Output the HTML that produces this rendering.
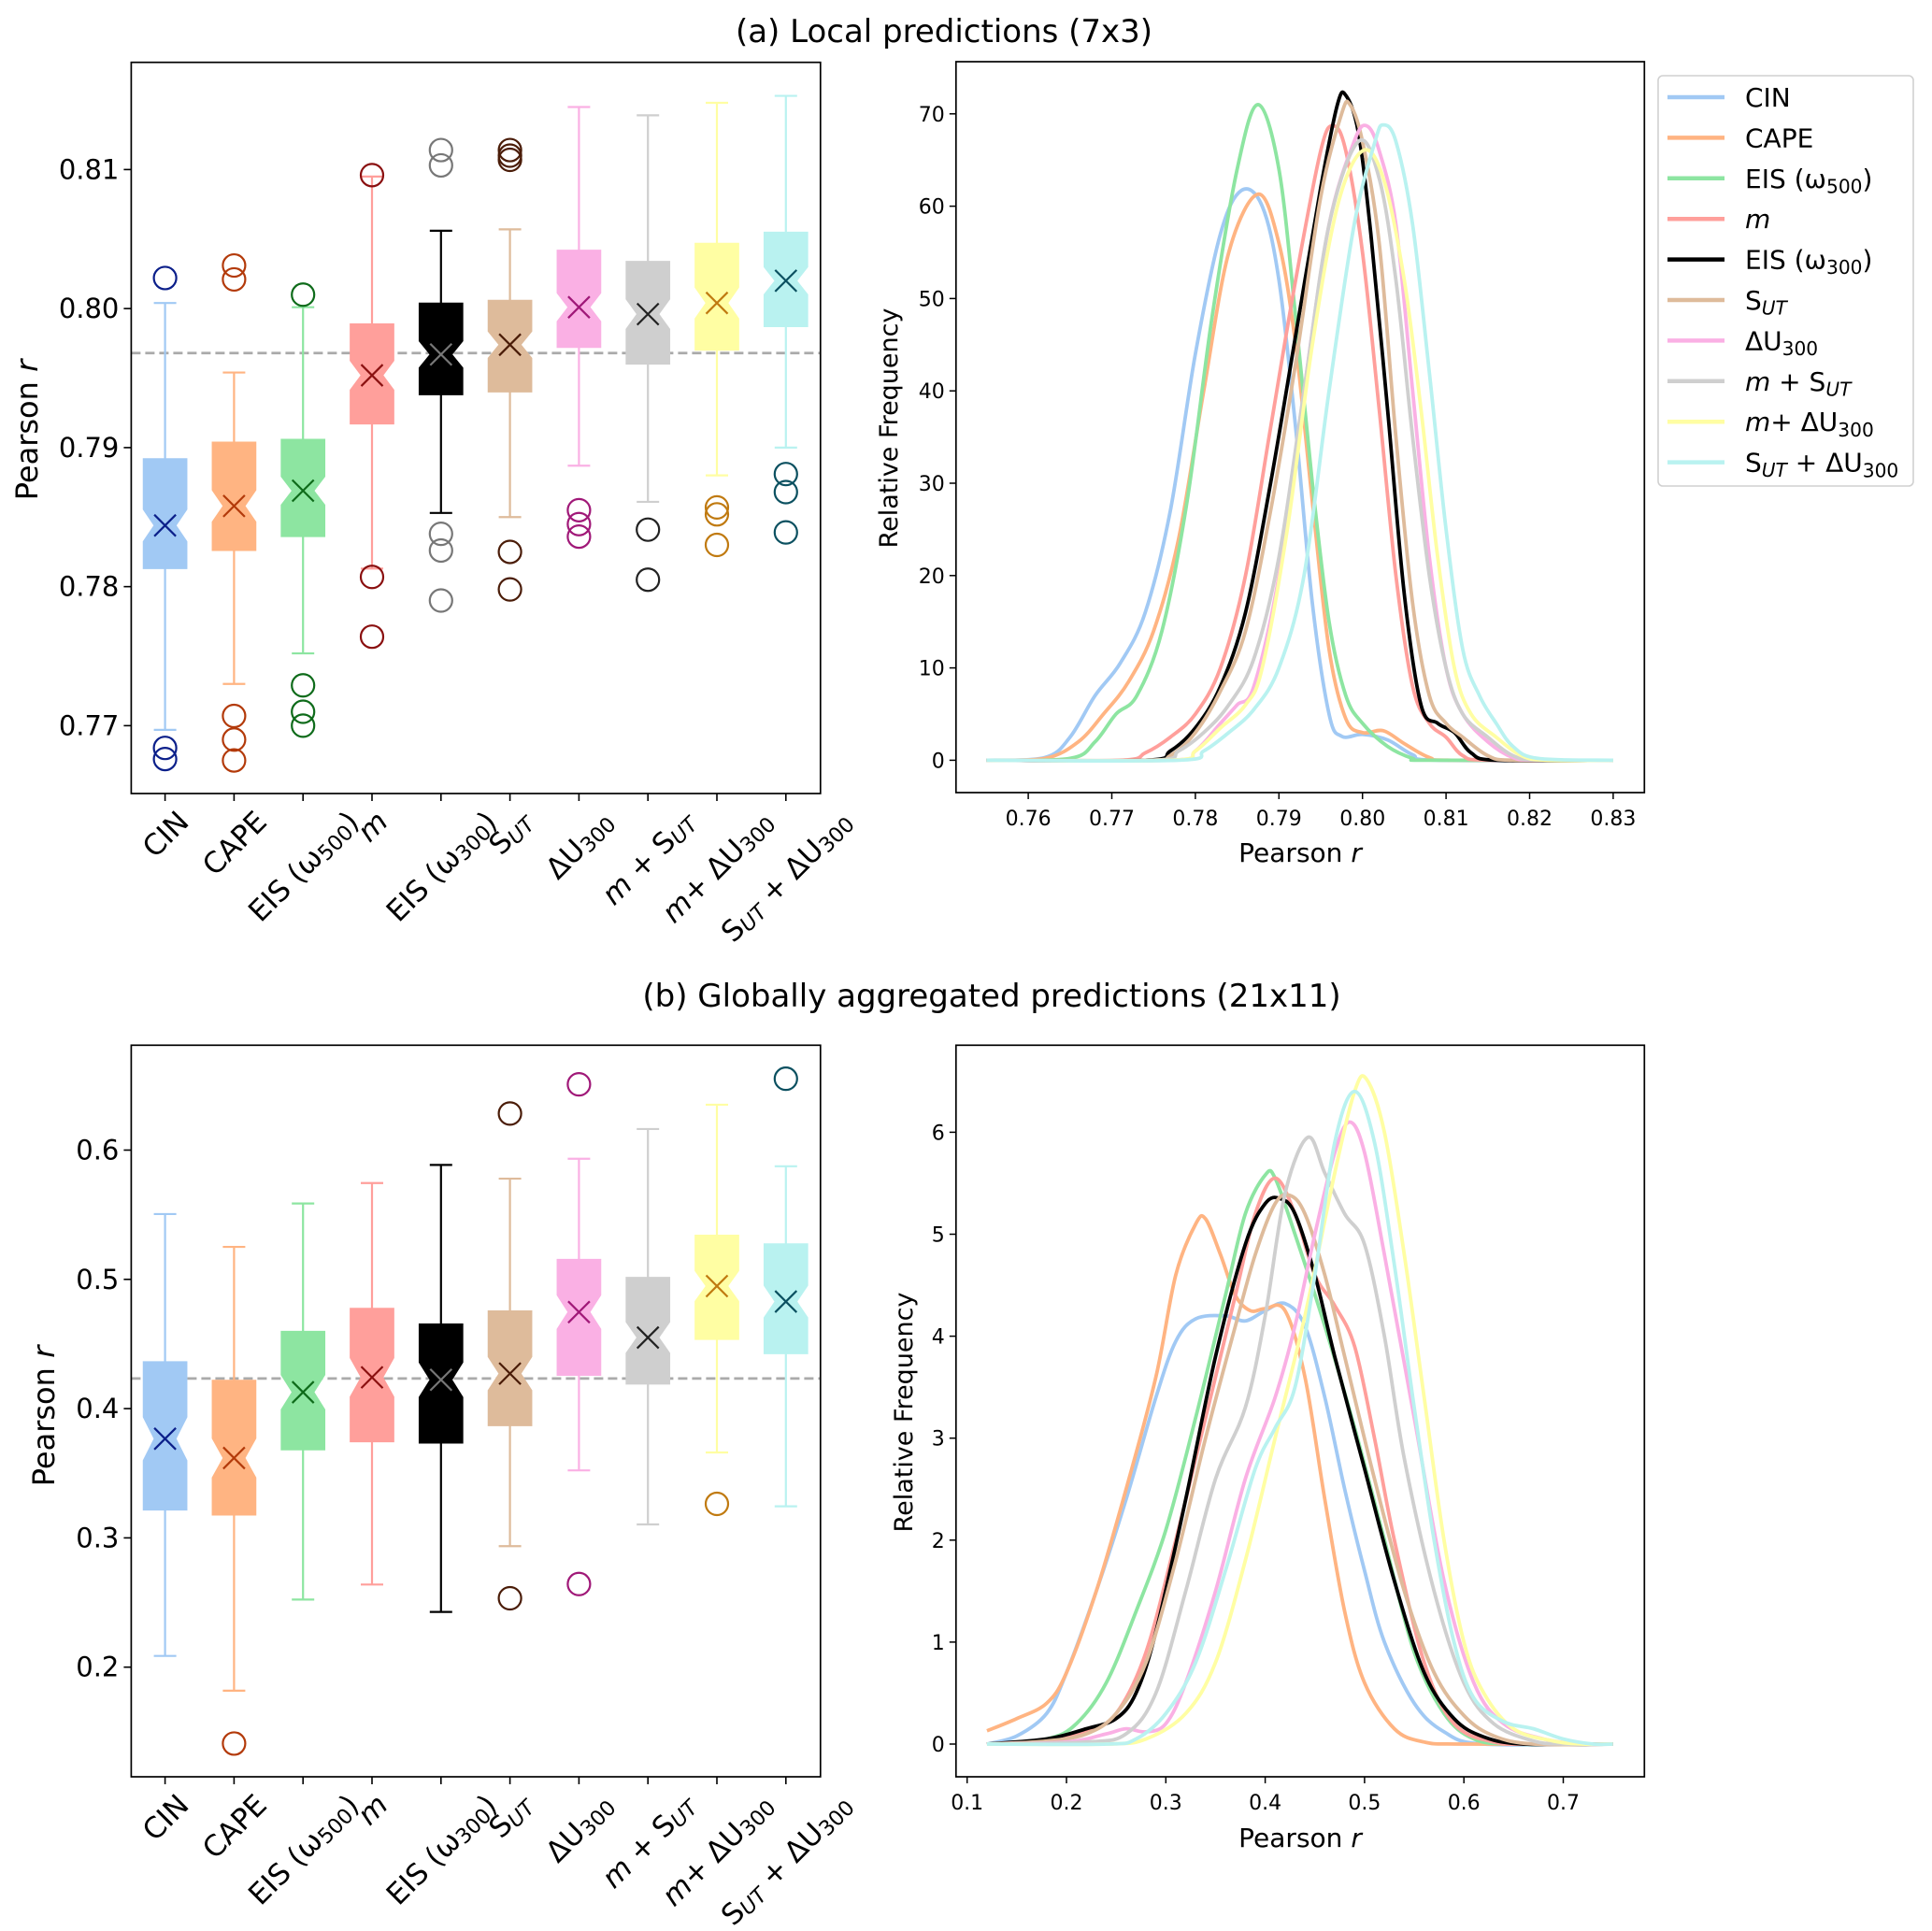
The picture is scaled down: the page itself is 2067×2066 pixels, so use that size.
<!DOCTYPE html>
<html><head><meta charset="utf-8"><style>
html,body{margin:0;padding:0;background:#fff}
svg{display:block;font-family:"DejaVu Sans","Liberation Sans",sans-serif}
</style></head><body>
<svg id="fig" xmlns="http://www.w3.org/2000/svg" width="2067" height="2066" viewBox="0 0 2067 2066">
<rect width="2067" height="2066" fill="#fff"/>
<text x="1010" y="45" font-size="34" text-anchor="middle">(a) Local predictions (7x3)</text>
<text x="1061" y="1077" font-size="34" text-anchor="middle">(b) Globally aggregated predictions (21x11)</text>
</svg>
<script>
// ---------- data ----------
const categories = ["CIN","CAPE","EIS500","m","EIS300","SUT","dU300","m+SUT","m+dU300","SUT+dU300"];
const lightColors = ["#a1c9f4","#ffb482","#8de5a1","#ff9f9b","#000000","#debb9b","#fab0e4","#cfcfcf","#fffea3","#b9f2f0"];
const darkColors = ["#0b1f8a","#b33a0a","#0e6b1a","#8a1010","#777777","#4a1c08","#a01878","#222222","#c07a10","#0b5060"];
// top box plot
const topQ1 = [.7813,.7826,.7836,.7917,.7938,.7940,.7972,.7960,.7970,.7987];
const topQ3 = [.7892,.7904,.7906,.7989,.8004,.8006,.8042,.8034,.8047,.8055];
const topMed = [.7844,.7858,.7869,.7952,.7967,.7974,.8001,.7996,.8004,.8020];
const topMean = [.7844,.7858,.7869,.7952,.7967,.7974,.8001,.7996,.8004,.8020];
const topLo = [.7697,.7730,.7752,.7813,.7853,.7850,.7887,.7861,.7880,.7900];
const topHi = [.8004,.7954,.8001,.8095,.8056,.8057,.8145,.8139,.8148,.8153];
const topOut = [[.8022,.7684,.7676],[.8031,.8021,.7707,.7690,.7675],[.8010,.7729,.7710,.7700],[.8096,.7807,.7764],[.8114,.8103,.7838,.7826,.7790],[.8114,.8110,.8107,.7825,.7798],[.7855,.7845,.7836],[.7841,.7805],[.7857,.7852,.7830],[.7881,.7868,.7839]];
const topRef = .7968;
// bottom box plot
const botQ1 = [.3215,.3176,.3681,.3743,.3733,.3868,.4257,.4190,.4535,.4425];
const botQ3 = [.4363,.4219,.4598,.4776,.4655,.4756,.5155,.5016,.5342,.5275];
const botMed = [.3767,.3618,.4127,.4242,.4223,.4271,.4747,.4550,.4948,.4828];
const botMean = [.3767,.3618,.4127,.4242,.4223,.4271,.4747,.4550,.4948,.4828];
const botLo = [.2087,.1818,.2523,.2639,.2427,.2936,.3522,.3104,.3661,.3244];
const botHi = [.5505,.5251,.5587,.5745,.5885,.5779,.5933,.6163,.6351,.5875];
const botOut = [[],[.1409],[],[],[],[.6283,.2533],[.6509,.2643],[],[.3263],[.6552]];
const botRef = .4233;
const nSamples = 115;
// KDE top
const kdeTop = [
[[.755,0],[.762,.3],[.765,2.5],[.768,7],[.771,10.5],[.774,16],[.777,27],[.780,44],[.783,57],[.7855,61.7],[.788,60],[.790,52],[.792,36],[.794,17],[.796,5],[.7975,2.6],[.800,2.8],[.803,2.2],[.806,.6],[.809,0],[.83,0]],
[[.755,0],[.762,.2],[.766,2],[.769,5],[.772,8.5],[.775,14],[.778,24],[.781,40],[.784,55],[.7875,61.3],[.790,56],[.792,45],[.794,28],[.796,12],[.798,4.5],[.800,3],[.8025,3.2],[.805,1.8],[.808,.3],[.811,0],[.83,0]],
[[.755,0],[.765,.2],[.768,2],[.7705,5],[.773,7],[.776,14],[.779,28],[.782,48],[.785,64],[.7875,71],[.790,64],[.792,48],[.794,30],[.796,15],[.798,7],[.800,4],[.803,1.5],[.806,.2],[.808,0],[.83,0]],
[[.755,0],[.771,0],[.774,.8],[.777,2.5],[.780,5],[.783,10],[.786,20],[.789,36],[.792,52],[.795,66],[.7965,68.7],[.798,66],[.800,55],[.802,38],[.804,20],[.806,8],[.808,4],[.810,2.5],[.812,.5],[.815,0],[.83,0]],
[[.755,0],[.774,0],[.777,1],[.780,3.5],[.783,8],[.786,16],[.789,30],[.792,46],[.795,62],[.797,71],[.798,72],[.7995,68],[.801,57],[.803,38],[.805,18],[.807,6],[.809,4],[.811,3],[.813,.8],[.816,0],[.83,0]],
[[.755,0],[.774,0],[.777,.5],[.780,3],[.783,7.5],[.786,14],[.789,27],[.792,43],[.795,61],[.7975,70],[.7985,71],[.800,67],[.802,56],[.804,35],[.806,17],[.808,7],[.810,4],[.812,2.5],[.815,.5],[.818,0],[.83,0]],
[[.755,0],[.777,0],[.780,1],[.783,4],[.785,6],[.787,8],[.790,20],[.793,40],[.796,58],[.799,67],[.8005,68.7],[.802,66],[.804,58],[.806,40],[.808,22],[.810,10],[.812,5],[.815,2],[.818,.3],[.821,0],[.83,0]],
[[.755,0],[.775,0],[.778,1],[.781,3],[.784,6],[.787,11],[.790,22],[.793,40],[.796,58],[.7995,67],[.802,63],[.804,52],[.806,35],[.808,20],[.810,10],[.812,5],[.815,2.5],[.818,.5],[.821,0],[.83,0]],
[[.755,0],[.777,0],[.780,1],[.783,3.5],[.786,6],[.788,10],[.791,25],[.794,45],[.797,60],[.800,66],[.8025,63],[.805,52],[.807,38],[.809,22],[.811,10],[.813,5],[.816,2.5],[.819,.5],[.822,0],[.83,0]],
[[.755,0],[.778,0],[.781,1],[.784,3],[.787,5.5],[.790,10],[.793,20],[.796,40],[.799,58],[.8015,67],[.8025,68.8],[.804,67],[.806,58],[.808,42],[.810,25],[.812,12],[.814,7],[.816,4],[.818,1.5],[.821,.2],[.83,0]]
];
// KDE bottom
const kdeBot = [
[[.12,0],[.15,.08],[.18,.3],[.2,.7],[.23,1.5],[.26,2.4],[.29,3.4],[.31,3.95],[.33,4.17],[.36,4.2],[.38,4.15],[.40,4.25],[.42,4.32],[.44,4.1],[.46,3.4],[.48,2.5],[.50,1.7],[.52,1.0],[.55,.4],[.58,.12],[.62,0],[.75,0]],
[[.12,.13],[.15,.25],[.18,.4],[.2,.7],[.23,1.5],[.26,2.5],[.29,3.6],[.31,4.6],[.33,5.1],[.34,5.15],[.355,4.8],[.37,4.4],[.385,4.25],[.40,4.27],[.42,4.25],[.44,3.6],[.46,2.4],[.48,1.3],[.50,.6],[.53,.15],[.56,.02],[.6,0],[.75,0]],
[[.12,0],[.18,.05],[.21,.2],[.24,.6],[.27,1.3],[.30,2.1],[.33,3.2],[.36,4.4],[.38,5.2],[.40,5.58],[.41,5.55],[.43,5.0],[.46,4.1],[.49,3.1],[.52,2.0],[.55,.9],[.58,.3],[.61,.05],[.65,0],[.75,0]],
[[.12,0],[.18,.03],[.22,.12],[.25,.3],[.28,.9],[.31,2.0],[.34,3.2],[.37,4.4],[.39,5.2],[.41,5.55],[.43,5.2],[.45,4.6],[.47,4.3],[.49,3.9],[.51,3.0],[.53,2.0],[.56,.8],[.59,.2],[.63,.02],[.67,0],[.75,0]],
[[.12,0],[.18,.05],[.22,.15],[.25,.25],[.27,.5],[.29,1.1],[.32,2.4],[.35,3.8],[.38,4.9],[.40,5.3],[.415,5.35],[.43,5.2],[.45,4.6],[.47,3.8],[.50,2.7],[.53,1.6],[.56,.7],[.59,.25],[.62,.07],[.66,0],[.75,0]],
[[.12,0],[.18,.03],[.22,.1],[.25,.3],[.28,.8],[.31,1.8],[.34,3.0],[.37,4.1],[.39,4.8],[.41,5.3],[.425,5.38],[.44,5.2],[.46,4.6],[.48,3.8],[.51,2.6],[.54,1.5],[.57,.7],[.60,.28],[.63,.08],[.67,0],[.75,0]],
[[.12,0],[.2,.02],[.24,.1],[.26,.15],[.28,.12],[.30,.2],[.32,.6],[.35,1.5],[.38,2.6],[.41,3.4],[.43,4.1],[.45,5.0],[.47,5.8],[.485,6.1],[.50,5.8],[.52,4.8],[.55,3.2],[.58,1.6],[.61,.6],[.64,.2],[.68,.05],[.72,0],[.75,0]],
[[.12,0],[.22,.02],[.26,.1],[.29,.5],[.32,1.5],[.35,2.6],[.38,3.3],[.40,4.2],[.42,5.4],[.443,5.95],[.46,5.6],[.48,5.2],[.50,4.9],[.52,4.0],[.54,2.8],[.57,1.5],[.60,.6],[.63,.2],[.67,.03],[.7,0],[.75,0]],
[[.12,0],[.24,0],[.28,.05],[.32,.3],[.35,.8],[.38,1.8],[.41,3.0],[.44,4.2],[.47,5.6],[.49,6.4],[.502,6.52],[.52,6.0],[.54,4.8],[.56,3.4],[.58,2.0],[.60,1.0],[.62,.5],[.65,.15],[.69,.03],[.72,0],[.75,0]],
[[.12,0],[.24,0],[.27,.05],[.30,.3],[.33,.8],[.36,1.7],[.39,2.7],[.41,3.1],[.43,3.5],[.45,4.6],[.47,5.9],[.49,6.4],[.51,5.9],[.53,4.7],[.55,3.3],[.57,2.0],[.59,1.0],[.61,.45],[.64,.22],[.67,.15],[.70,.05],[.73,0],[.75,0]]
];
const topYTicks = [.77,.78,.79,.80,.81];
const botYTicks = [.2,.3,.4,.5,.6];
const trXTicks = [.76,.77,.78,.79,.80,.81,.82,.83];
const trYTicks = [0,10,20,30,40,50,60,70];
const brXTicks = [.1,.2,.3,.4,.5,.6,.7];
const brYTicks = [0,1,2,3,4,5,6];

// ---------- helpers ----------
const NS="http://www.w3.org/2000/svg";
const svg=document.getElementById('fig');
function mk(tag,attrs,parent){const e=document.createElementNS(NS,tag);for(const k in attrs)e.setAttribute(k,attrs[k]);(parent||svg).appendChild(e);return e;}
const labelSegs = {
 "CIN":[["CIN",""]],
 "CAPE":[["CAPE",""]],
 "EIS500":[["EIS (ω",""],["500","sub"],[")",""]],
 "m":[["m","i"]],
 "EIS300":[["EIS (ω",""],["300","sub"],[")",""]],
 "SUT":[["S",""],["UT","isub"]],
 "dU300":[["ΔU",""],["300","sub"]],
 "m+SUT":[["m","i"],[" + S",""],["UT","isub"]],
 "m+dU300":[["m","i"],["+ ΔU",""],["300","sub"]],
 "SUT+dU300":[["S",""],["UT","isub"],[" + ΔU",""],["300","sub"]]
};
function richText(t,key){
  let sub=false;
  labelSegs[key].forEach(([s,st])=>{
    const ts=mk('tspan',{},t);ts.textContent=s;
    if(st==='i'||st==='isub')ts.setAttribute('font-style','italic');
    if(st==='sub'||st==='isub'){ts.setAttribute('font-size','0.72em');if(!sub){ts.setAttribute('dy','0.28em');sub=true;}}
    else if(sub){ts.setAttribute('dy','-0.2em');sub=false;}
  });
}
function frame(g,x0,x1,y0,y1){mk('rect',{x:x0,y:y0,width:x1-x0,height:y1-y0,fill:'none',stroke:'#000','stroke-width':1.7},g);}

// ---------- box panels ----------
function boxPanel(name,y0,y1,ymap,ticks,fmt,Q1,Q3,Med,Mean,Lo,Hi,Out,ref,labelY){
  const g=mk('g',{});
  
  
  const x0=140.4,x1=877.8;
  const cx=i=>176.6+i*73.8;
  const rl=mk('line',{x1:x0,x2:x1,y1:ymap(ref),y2:ymap(ref),stroke:'#aaaaaa','stroke-width':2.8,'stroke-dasharray':'10,5'},g);
  
  
  categories.forEach((c,i)=>{
    const bg=mk('g',{},g);
    
    
    const x=cx(i),w=46.7,l=x-w/2,r=x+w/2,ins=w*0.25;
    const col=lightColors[i];
    const iqr=Q3[i]-Q1[i];const nh=1.57*iqr/Math.sqrt(nSamples);
    const nlo=Med[i]-nh,nhi=Med[i]+nh;
    mk('line',{x1:x,x2:x,y1:ymap(Q3[i]),y2:ymap(Hi[i]),stroke:col,'stroke-width':2.2},bg);
    mk('line',{x1:x,x2:x,y1:ymap(Q1[i]),y2:ymap(Lo[i]),stroke:col,'stroke-width':2.2},bg);
    mk('line',{x1:x-12,x2:x+12,y1:ymap(Hi[i]),y2:ymap(Hi[i]),stroke:col,'stroke-width':2.2},bg);
    mk('line',{x1:x-12,x2:x+12,y1:ymap(Lo[i]),y2:ymap(Lo[i]),stroke:col,'stroke-width':2.2},bg);
    const pts=[[l,Q1[i]],[r,Q1[i]],[r,nlo],[r-ins,Med[i]],[r,nhi],[r,Q3[i]],[l,Q3[i]],[l,nhi],[l+ins,Med[i]],[l,nlo]];
    mk('polygon',{points:pts.map(p=>p[0]+','+ymap(p[1])).join(' '),fill:col,stroke:col,'stroke-width':1},bg);
    const my=ymap(Mean[i]),s=11.5;
    mk('path',{d:`M${x-s},${my-s}L${x+s},${my+s}M${x-s},${my+s}L${x+s},${my-s}`,stroke:darkColors[i],'stroke-width':2.2,fill:'none'},bg);
    Out[i].forEach(v=>{mk('circle',{cx:x,cy:ymap(v),r:12,fill:'none',stroke:darkColors[i],'stroke-width':2.2},bg);});
    mk('line',{x1:x,x2:x,y1:y1,y2:y1+8,stroke:'#000','stroke-width':1.6},g);
    const t=mk('text',{'font-size':31,'text-anchor':'middle','dominant-baseline':'central'},g);
    
    
    richText(t,c);
    const len=t.getComputedTextLength();
    const cyT=y1+14+len*0.354+11;
    t.setAttribute('transform',`translate(${x+1},${cyT}) rotate(-45)`);
  });
  ticks.forEach(v=>{
    const y=ymap(v);
    mk('line',{x1:x0-8,x2:x0,y1:y,y2:y,stroke:'#000','stroke-width':1.6},g);
    const t=mk('text',{x:x0-13,y:y+10,'font-size':29,'text-anchor':'end'},g);
    
    
    t.textContent=fmt(v);
  });
  frame(g,x0,x1,y0,y1);
  const yl=mk('text',{'font-size':32,'text-anchor':'middle',transform:`translate(${labelY[0]},${labelY[1]}) rotate(-90)`},g);
  
  
  yl.innerHTML='Pearson <tspan font-style="italic">r</tspan>';
}
boxPanel('box-panel-local',66.7,849,v=>181.4+(0.81-v)*14875,topYTicks,v=>v.toFixed(2),topQ1,topQ3,topMed,topMean,topLo,topHi,topOut,topRef,[40,460]);
boxPanel('box-panel-global',1118.3,1901,v=>1230.5+(0.6-v)*1383,botYTicks,v=>v.toFixed(1),botQ1,botQ3,botMed,botMean,botLo,botHi,botOut,botRef,[58,1515]);

// ---------- KDE panels ----------
function smoothPath(pts){
  let d=`M${pts[0][0]},${pts[0][1]}`;
  for(let i=0;i<pts.length-1;i++){
    const p0=pts[Math.max(0,i-1)],p1=pts[i],p2=pts[i+1],p3=pts[Math.min(pts.length-1,i+2)];
    const c1=[p1[0]+(p2[0]-p0[0])/6,p1[1]+(p2[1]-p0[1])/6],c2=[p2[0]-(p3[0]-p1[0])/6,p2[1]-(p3[1]-p1[1])/6];
    d+=`C${c1[0]},${c1[1]} ${c2[0]},${c2[1]} ${p2[0]},${p2[1]}`;
  }
  return d;
}
function kdePanel(name,y0,y1,xm,ym,series,xt,yt,xfmt,ylab,xlabY){
  const g=mk('g',{});
  
  
  const x0=1022.8,x1=1759.3;
  series.forEach((s,i)=>{
    const p=mk('path',{d:smoothPath(s.map(q=>[xm(q[0]),ym(q[1])])),fill:'none',stroke:lightColors[i],'stroke-width':3.8,'stroke-linejoin':'round'},g);
    
    
  });
  xt.forEach(v=>{const x=xm(v);mk('line',{x1:x,x2:x,y1:y1,y2:y1+7,stroke:'#000','stroke-width':1.5},g);
    const t=mk('text',{x:x,y:y1+35,'font-size':22,'text-anchor':'middle'},g);
    
    
    t.textContent=xfmt(v);});
  yt.forEach(v=>{const y=ym(v);mk('line',{x1:x0-7,x2:x0,y1:y,y2:y,stroke:'#000','stroke-width':1.5},g);
    const t=mk('text',{x:x0-12,y:y+8,'font-size':22,'text-anchor':'end'},g);
    
    
    t.textContent=String(v);});
  frame(g,x0,x1,y0,y1);
  const yl=mk('text',{'font-size':27,'text-anchor':'middle',transform:`translate(${ylab[0]},${ylab[1]}) rotate(-90)`},g);
  
  
  yl.textContent='Relative Frequency';
  const xl=mk('text',{x:1391,y:xlabY,'font-size':28,'text-anchor':'middle'},g);
  
  
  xl.innerHTML='Pearson <tspan font-style="italic">r</tspan>';
}
kdePanel('kde-panel-local',66,848,v=>1100.1+(v-0.76)*8940,v=>813.4-v*9.88,kdeTop,trXTicks,trYTicks,v=>v.toFixed(2),[960,458],922);
kdePanel('kde-panel-global',1118.3,1901,v=>1034.7+(v-0.1)*1063,v=>1866-v*109.1,kdeBot,brXTicks,brYTicks,v=>v.toFixed(1),[976,1511],1976);

// ---------- legend ----------
const lg=mk('g',{});


mk('rect',{x:1774,y:81,width:273,height:439,rx:5,fill:'#fff',stroke:'#d0d0d0','stroke-width':1.6},lg);
categories.forEach((c,i)=>{
  const y=104+i*43.4;
  const e=mk('g',{},lg);
  
  
  mk('line',{x1:1784,x2:1845,y1:y,y2:y,stroke:lightColors[i],'stroke-width':4.5},e);
  const t=mk('text',{x:1867,y:y+10,'font-size':28},e);
  richText(t,c);
});
</script>
</body></html>
